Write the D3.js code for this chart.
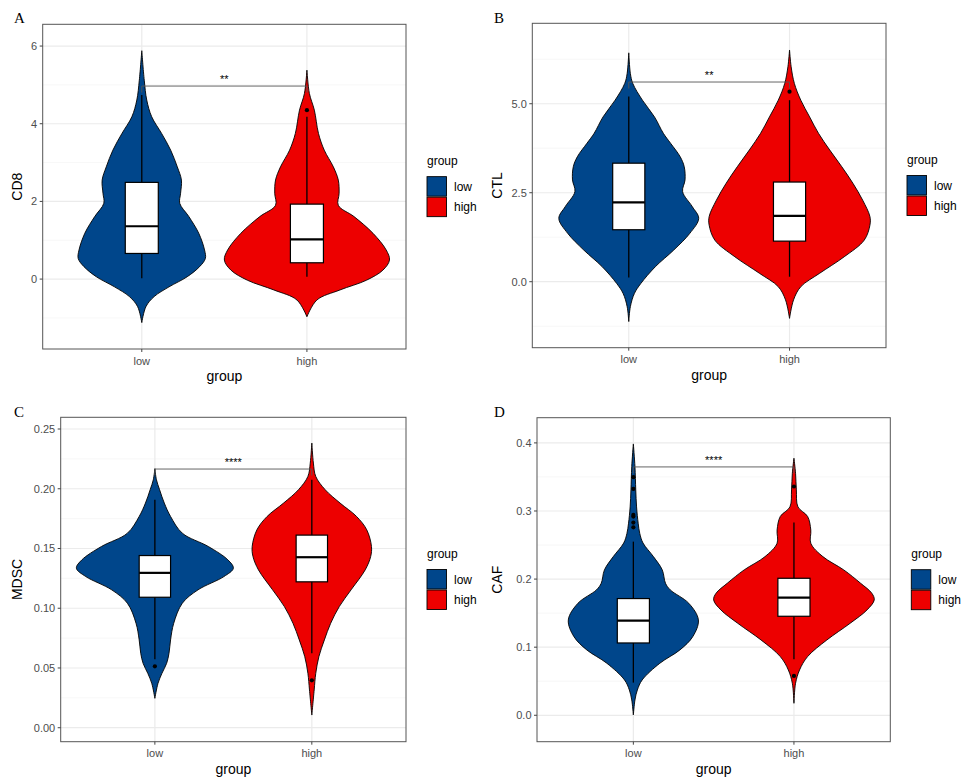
<!DOCTYPE html>
<html>
<head>
<meta charset="utf-8">
<script src="https://cdn.jsdelivr.net/npm/d3@7"></script>
<style>
  body { margin: 0; background: #fff; }
  text { font-family: "Liberation Sans", Arial, sans-serif; }
</style>
</head>
<body>
<div id="chart"></div>
<script>

var groups = ["low", "high"]
var groupColors = ["#00468B", "#ED0000"]

// violin profiles: [value, relative density]
var cd8Low = [[5.88,0],[5.12,0.03],[4.61,0.06],[4.18,0.12],[3.75,0.24],[3.32,0.35],[2.89,0.43],[2.55,0.48],[2.21,0.47],[1.95,0.46],[1.61,0.57],[1.18,0.69],[0.75,0.76],[0.53,0.77],[0.32,0.70],[0.06,0.55],[-0.20,0.33],[-0.45,0.15],[-0.71,0.05],[-1.12,0]]
var cd8High = [[5.38,0],[4.78,0.03],[4.35,0.09],[3.75,0.14],[3.32,0.21],[2.89,0.32],[2.55,0.38],[2.21,0.39],[1.90,0.38],[1.61,0.57],[1.18,0.80],[0.75,0.96],[0.49,1.00],[0.23,0.92],[-0.03,0.72],[-0.28,0.40],[-0.54,0.12],[-0.97,0]]
var ctlLow = [[6.43,0],[5.85,0.02],[5.57,0.05],[5.10,0.17],[4.63,0.32],[4.17,0.43],[3.89,0.52],[3.51,0.64],[3.23,0.69],[2.86,0.70],[2.53,0.67],[2.11,0.79],[1.78,0.87],[1.36,0.76],[0.89,0.56],[0.42,0.33],[-0.05,0.15],[-0.33,0.07],[-0.70,0.02],[-1.12,0]]
var ctlHigh = [[6.51,0],[6.04,0.02],[5.57,0.06],[5.10,0.14],[4.63,0.25],[4.17,0.36],[3.70,0.50],[3.23,0.65],[2.76,0.79],[2.29,0.91],[1.83,1.00],[1.59,1.00],[1.17,0.93],[0.70,0.68],[0.23,0.37],[-0.14,0.14],[-0.51,0.05],[-1.03,0]]
var mdscLow = [[0.2168,0],[0.2075,0.02],[0.1992,0.06],[0.188,0.12],[0.1768,0.20],[0.1628,0.35],[0.1517,0.68],[0.1405,0.93],[0.1335,1.00],[0.1265,0.88],[0.1154,0.55],[0.1042,0.35],[0.0874,0.24],[0.0735,0.20],[0.0623,0.18],[0.0539,0.15],[0.0455,0.09],[0.0372,0.04],[0.0246,0]]
var mdscHigh = [[0.2383,0],[0.2215,0.02],[0.2103,0.05],[0.1992,0.17],[0.188,0.36],[0.1768,0.57],[0.1656,0.70],[0.1517,0.76],[0.1433,0.75],[0.1321,0.68],[0.1154,0.50],[0.1014,0.35],[0.0874,0.24],[0.0735,0.16],[0.0595,0.09],[0.0455,0.05],[0.0316,0.03],[0.0106,0]]
var cafLow = [[0.3985,0],[0.365,0.02],[0.331,0.03],[0.306,0.04],[0.282,0.06],[0.267,0.08],[0.253,0.12],[0.233,0.25],[0.2135,0.36],[0.1939,0.40],[0.1841,0.46],[0.1645,0.69],[0.140,0.81],[0.1155,0.74],[0.096,0.58],[0.0764,0.33],[0.0519,0.11],[0.0372,0.05],[0.0225,0.02],[0.0005,0]]
var cafHigh = [[0.3775,0],[0.3554,0.02],[0.331,0.03],[0.306,0.05],[0.292,0.17],[0.272,0.21],[0.2526,0.21],[0.233,0.36],[0.2135,0.62],[0.1939,0.83],[0.1792,0.97],[0.1694,1.00],[0.1547,0.91],[0.1351,0.70],[0.1106,0.41],[0.0862,0.17],[0.0666,0.07],[0.047,0.02],[0.0176,0]]

// box stats per group: [lower whisker, q1, median, q3, upper whisker]
var cd8Box = [[0.02, 0.66, 1.36, 2.49, 4.74], [0.06, 0.42, 1.02, 1.93, 4.18]]
var ctlBox = [[0.12, 1.46, 2.23, 3.33, 5.20], [0.14, 1.14, 1.85, 2.80, 5.10]]
var mdscBox = [[0.0573, 0.1092, 0.1296, 0.1441, 0.1908], [0.0623, 0.1221, 0.1427, 0.1612, 0.2075]]
var cafBox = [[0.048, 0.1062, 0.139, 0.1714, 0.255], [0.0823, 0.1454, 0.1728, 0.2012, 0.283]]

// outliers per group
var cd8Out = [[], [4.35]]
var ctlOut = [[], [5.34]]
var mdscOut = [[0.0514], [0.0397]]
var cafOut = [[0.3496, 0.3324, 0.2942, 0.2918, 0.283, 0.276], [0.336, 0.0578]]

// significance brackets
var bracketY = [4.97, 5.61, 0.2165, 0.3647]
var sigLabels = ["**", "**", "****", "****"]

var panelLetters = ["A", "B", "C", "D"]
var yTitles = ["CD8", "CTL", "MDSC", "CAF"]
var yTicks = [[0, 2, 4, 6], [0, 2.5, 5], [0, 0.05, 0.1, 0.15, 0.2, 0.25], [0, 0.1, 0.2, 0.3, 0.4]]
var yMinor = [[-1, 1, 3, 5], [-1.25, 1.25, 3.75, 6.25], [0.025, 0.075, 0.125, 0.175, 0.225], [0.05, 0.15, 0.25, 0.35]]
var yFormats = ["d", ".1f", ".2f", ".1f"]
var yDomains = [[-1.80, 6.56], [-1.854, 7.26], [-0.0117, 0.2598], [-0.0388, 0.437]]


// panel layout (pixels)
var panels = [
  {ox: 0,   oy: 0,   left: 42.7,  right: 406,   top: 24.3,  bottom: 349,   letterY: 23,
   violins: [cd8Low, cd8High], box: cd8Box, out: cd8Out},
  {ox: 480, oy: 0,   left: 532.3, right: 886,   top: 23.3,  bottom: 347.7, letterY: 23,
   violins: [ctlLow, ctlHigh], box: ctlBox, out: ctlOut},
  {ox: 0,   oy: 390, left: 60.7,  right: 406,   top: 417.3, bottom: 741.7, letterY: 417,
   violins: [mdscLow, mdscHigh], box: mdscBox, out: mdscOut},
  {ox: 480, oy: 390, left: 537,   right: 890.3, top: 417.7, bottom: 741.7, letterY: 417,
   violins: [cafLow, cafHigh], box: cafBox, out: cafOut}
]

var svg = d3.select("#chart").append("svg")
    .attr("width", 963)
    .attr("height", 783)

svg.append("rect")
    .attr("width", 963)
    .attr("height", 783)
    .attr("fill", "#fff")

panels.forEach(function(p, i){
  drawPanel(p, i)
})

function drawPanel(p, i){
  var x = d3.scalePoint().domain(groups).range([p.left, p.right]).padding(0.6)
  var y = d3.scaleLinear().domain(yDomains[i]).range([p.bottom, p.top])
  var halfWidth = d3.scaleLinear().domain([0, 1]).range([0, x.step() * 0.5])
  var boxHalf = x.step() * 0.1
  var mid = (p.top + p.bottom) / 2

  var g = svg.append("g").attr("class", "panel")

  // grid
  g.selectAll(".minor")
      .data(yMinor[i])
    .enter().append("line")
      .attr("x1", p.left).attr("x2", p.right)
      .attr("y1", function(d){ return y(d) }).attr("y2", function(d){ return y(d) })
      .attr("stroke", "#f3f3f3").attr("stroke-width", 0.7)

  g.selectAll(".major")
      .data(yTicks[i])
    .enter().append("line")
      .attr("x1", p.left).attr("x2", p.right)
      .attr("y1", function(d){ return y(d) }).attr("y2", function(d){ return y(d) })
      .attr("stroke", "#ebebeb").attr("stroke-width", 1.2)

  g.selectAll(".vgrid")
      .data(groups)
    .enter().append("line")
      .attr("x1", function(d){ return x(d) }).attr("x2", function(d){ return x(d) })
      .attr("y1", p.top).attr("y2", p.bottom)
      .attr("stroke", "#ebebeb").attr("stroke-width", 1.2)

  // violins
  groups.forEach(function(grp, j){
    var cx = x(grp)
    var area = d3.area()
        .curve(d3.curveCatmullRom)
        .y(function(d){ return y(d[0]) })
        .x0(function(d){ return cx - halfWidth(d[1]) })
        .x1(function(d){ return cx + halfWidth(d[1]) })
    g.append("path")
        .datum(p.violins[j])
        .attr("d", area)
        .attr("fill", groupColors[j])
        .attr("stroke", "#000")
        .attr("stroke-width", 0.9)
  })

  // bracket
  var by = y(bracketY[i])
  var tip = (p.bottom - p.top) * 0.02
  g.append("path")
      .attr("d", "M" + x("low") + "," + (by + tip) + "V" + by + "H" + x("high") + "V" + (by + tip))
      .attr("fill", "none")
      .attr("stroke", "#555")
      .attr("stroke-width", 0.9)
  g.append("text")
      .attr("x", (x("low") + x("high")) / 2)
      .attr("y", by - 3)
      .attr("text-anchor", "middle")
      .attr("font-size", 11)
      .attr("fill", "#000")
      .text(sigLabels[i])

  // box plots
  groups.forEach(function(grp, j){
    var cx = x(grp)
    var s = p.box[j]
    g.append("line")
        .attr("x1", cx).attr("x2", cx)
        .attr("y1", y(s[0])).attr("y2", y(s[4]))
        .attr("stroke", "#000").attr("stroke-width", 1.3)
    g.append("rect")
        .attr("x", cx - boxHalf)
        .attr("width", boxHalf * 2)
        .attr("y", y(s[3]))
        .attr("height", y(s[1]) - y(s[3]))
        .attr("fill", "#fff")
        .attr("stroke", "#000")
        .attr("stroke-width", 1.2)
    g.append("line")
        .attr("x1", cx - boxHalf).attr("x2", cx + boxHalf)
        .attr("y1", y(s[2])).attr("y2", y(s[2]))
        .attr("stroke", "#000").attr("stroke-width", 2.2)
    g.selectAll(null)
        .data(p.out[j])
      .enter().append("circle")
        .attr("cx", cx)
        .attr("cy", function(d){ return y(d) })
        .attr("r", 2.1)
        .attr("fill", "#000")
  })

  // panel border
  g.append("rect")
      .attr("x", p.left).attr("y", p.top)
      .attr("width", p.right - p.left).attr("height", p.bottom - p.top)
      .attr("fill", "none")
      .attr("stroke", "#555")
      .attr("stroke-width", 1)

  // y axis
  var fmt = d3.format(yFormats[i])
  var yAxis = g.append("g")
  yAxis.selectAll(".tick")
      .data(yTicks[i])
    .enter().append("line")
      .attr("x1", p.left - 3).attr("x2", p.left)
      .attr("y1", function(d){ return y(d) }).attr("y2", function(d){ return y(d) })
      .attr("stroke", "#444")
  yAxis.selectAll(".label")
      .data(yTicks[i])
    .enter().append("text")
      .attr("x", p.left - 5.5)
      .attr("y", function(d){ return y(d) })
      .attr("dy", "0.35em")
      .attr("text-anchor", "end")
      .attr("font-size", 11)
      .attr("fill", "#4d4d4d")
      .text(function(d){ return fmt(d) })

  // x axis
  var xAxis = g.append("g")
  xAxis.selectAll(".tick")
      .data(groups)
    .enter().append("line")
      .attr("x1", function(d){ return x(d) }).attr("x2", function(d){ return x(d) })
      .attr("y1", p.bottom).attr("y2", p.bottom + 3)
      .attr("stroke", "#444")
  xAxis.selectAll(".label")
      .data(groups)
    .enter().append("text")
      .attr("x", function(d){ return x(d) })
      .attr("y", p.bottom + 15.5)
      .attr("text-anchor", "middle")
      .attr("font-size", 11)
      .attr("fill", "#4d4d4d")
      .text(function(d){ return d })

  // axis titles
  g.append("text")
      .attr("x", (p.left + p.right) / 2)
      .attr("y", p.bottom + 32)
      .attr("text-anchor", "middle")
      .attr("font-size", 14)
      .attr("fill", "#000")
      .text("group")
  g.append("text")
      .attr("transform", "translate(" + (p.ox + 22) + "," + mid + ") rotate(-90)")
      .attr("text-anchor", "middle")
      .attr("font-size", 14)
      .attr("fill", "#000")
      .text(yTitles[i])

  // panel letter, serif like the original figure
  g.append("text")
      .attr("x", p.ox + 14)
      .attr("y", p.letterY)
      .style("font-family", "'Liberation Serif', 'Times New Roman', serif")
      .attr("font-size", 15)
      .attr("fill", "#000")
      .text(panelLetters[i])

  // legend
  var lx = p.right + 21
  var legend = g.append("g")
  legend.append("text")
      .attr("x", lx)
      .attr("y", mid - 21.5)
      .attr("font-size", 12)
      .attr("fill", "#000")
      .text("group")
  groups.forEach(function(grp, j){
    var ky = mid - 10 + j * 20.5
    legend.append("rect")
        .attr("x", lx).attr("y", ky)
        .attr("width", 19.5).attr("height", 19.5)
        .attr("fill", groupColors[j])
        .attr("stroke", "#000")
        .attr("stroke-width", 0.9)
    legend.append("text")
        .attr("x", lx + 27)
        .attr("y", ky + 14)
        .attr("font-size", 12)
        .attr("fill", "#000")
        .text(grp)
  })
}

</script>
</body>
</html>
